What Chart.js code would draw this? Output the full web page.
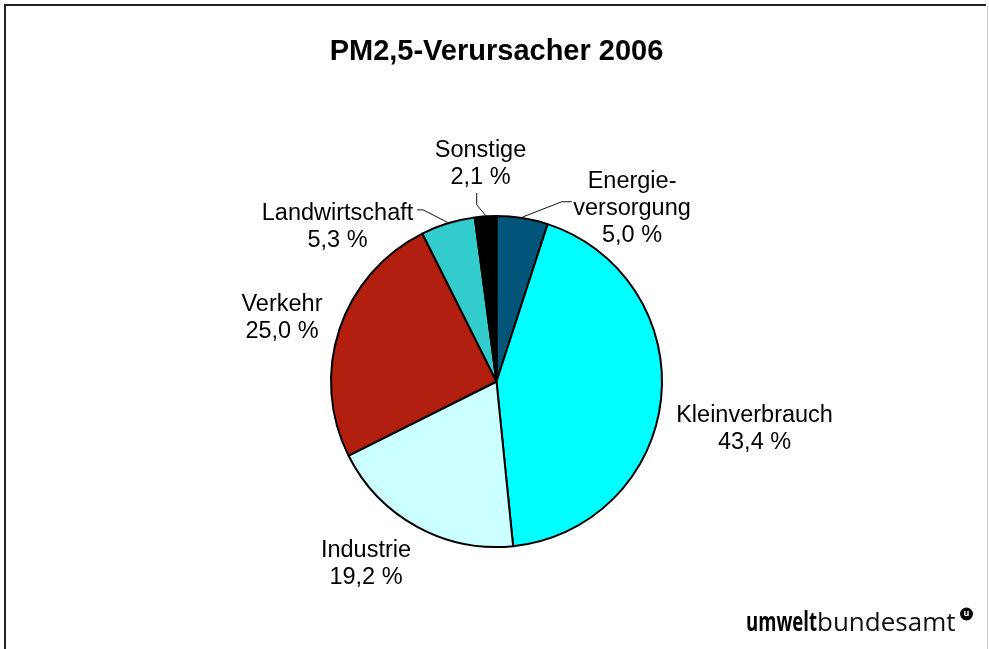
<!DOCTYPE html>
<html><head><meta charset="utf-8">
<script src="https://cdn.jsdelivr.net/npm/chart.js@4"></script>
<style>html,body{margin:0;padding:0;background:#fff}#wrap{width:989px;height:649px;position:relative}canvas{display:block}</style>
</head><body><div id="wrap"><canvas id="c" width="989" height="649"></canvas></div>
<script>
// ---- data ----
const categories = [['Energie-', 'versorgung'], 'Kleinverbrauch', 'Industrie', 'Verkehr', 'Landwirtschaft', 'Sonstige'];
const shares = [5.0, 43.4, 19.2, 25.0, 5.3, 2.1];
const sliceColors = ['#03557A', '#00FFFF', '#CCFFFF', '#B21F0E', '#33CCCC', '#000000'];
const chartTitle = 'PM2,5-Verursacher 2006';

const fmt = v => v.toFixed(1).replace('.', ',') + ' %';
const FONT = '"Liberation Sans", Arial, Helvetica, sans-serif';

const pieLabels = {
  id: 'pieLabels',
  afterDatasetsDraw(chart, args, opts) {
    const ctx = chart.ctx;
    const meta = chart.getDatasetMeta(0);
    const values = chart.data.datasets[0].data;
    ctx.save();
    ctx.font = opts.fontSize + 'px ' + FONT;
    ctx.fillStyle = '#000';
    ctx.textAlign = 'center';
    ctx.textBaseline = 'middle';
    meta.data.forEach((arc, i) => {
      const p = arc.getProps(['x', 'y', 'startAngle', 'endAngle', 'outerRadius'], true);
      const mid = (p.startAngle + p.endAngle) / 2;
      const r = p.outerRadius + 1;
      const px = p.x + Math.cos(mid) * r, py = p.y + Math.sin(mid) * r;
      const off = opts.offsets[i];
      const cx = px + off[0], cy = py + off[1];
      const name = chart.data.labels[i];
      const lines = Array.isArray(name) ? name.slice() : [name];
      lines.push(fmt(values[i]));
      const n = lines.length;
      lines.forEach((t, k) => ctx.fillText(t, cx, cy + (k - (n - 1) / 2) * opts.lineHeight));
      const ld = opts.leaders[i];
      if (ld) {
        ctx.beginPath();
        ctx.moveTo(px, py);
        ctx.lineTo(cx + ld[0][0], cy + ld[0][1]);
        ctx.lineTo(cx + ld[1][0], cy + ld[1][1]);
        ctx.lineWidth = 1;
        ctx.strokeStyle = '#111';
        ctx.stroke();
      }
    });
    ctx.restore();
  }
};

const frameAndLogo = {
  id: 'frameAndLogo',
  afterDraw(chart) {
    const ctx = chart.ctx;
    ctx.save();
    // frame
    ctx.fillStyle = '#222';
    ctx.fillRect(4, 4, 982, 2);
    ctx.fillRect(4, 4, 2, 645);
    ctx.fillStyle = '#cfcfcf';
    ctx.fillRect(987, 6, 1, 643);
    // logo
    ctx.fillStyle = '#000';
    ctx.textAlign = 'left';
    ctx.textBaseline = 'alphabetic';
    ctx.font = 'bold 26px "Liberation Sans Narrow", "Open Sans", sans-serif';
    ctx.fillText('umwelt', 746, 631, 71);
    ctx.font = '26px "Open Sans", sans-serif';
    ctx.fillStyle = '#111';
    ctx.fillText('bundesamt', 817, 631, 142);
    ctx.beginPath();
    ctx.arc(966.5, 614, 6.5, 0, Math.PI * 2);
    ctx.fillStyle = '#000';
    ctx.fill();
    ctx.fillStyle = '#fff';
    ctx.font = 'bold 9px "Open Sans", sans-serif';
    ctx.textAlign = 'center';
    ctx.textBaseline = 'middle';
    ctx.fillText('u', 966.5, 613.5);
    ctx.restore();
  }
};

new Chart(document.getElementById('c'), {
  type: 'pie',
  data: {
    labels: categories,
    datasets: [{
      data: shares,
      backgroundColor: sliceColors,
      borderColor: '#000',
      borderWidth: 2
    }]
  },
  options: {
    responsive: false,
    animation: false,
    events: [],
    layout: { padding: { top: 34.6, bottom: 101, left: 300, right: 296 } },
    plugins: {
      legend: { display: false },
      tooltip: { enabled: false },
      title: {
        display: true,
        text: chartTitle,
        color: '#000',
        font: { family: FONT, size: 29, weight: 'bold', lineHeight: 1.2 },
        padding: { top: 0, bottom: 145.6 }
      },
      pieLabels: {
        fontSize: 23.5,
        lineHeight: 27,
        offsets: [[109.5, -8.5], [92.5, 29.8], [-50.3, 36.2], [-56.5, -11.5], [-110, 5], [-5, -51]],
        leaders: {
          0: [[-70.3, -6.8], [-60.3, -6.8]],
          4: [[85.5, -17.5], [79.5, -17.5]],
          5: [[-3.8, 40.5], [-3.8, 28.5]]
        }
      }
    }
  },
  plugins: [pieLabels, frameAndLogo]
});
</script>
</body></html>
